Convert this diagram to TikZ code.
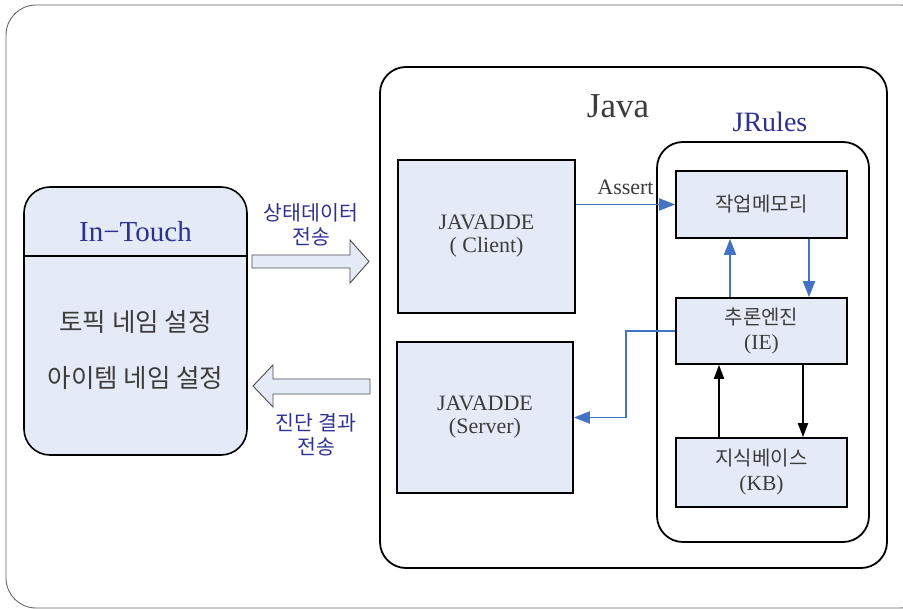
\documentclass[tikz,border=0pt]{standalone}
\usepackage{fontspec}
\setmainfont{Liberation Serif}
\newfontfamily\kr{Noto Sans CJK KR}
\usetikzlibrary{arrows.meta, positioning}

\definecolor{boxfill}{RGB}{229,235,246}
\definecolor{linkblue}{RGB}{68,114,196}
\definecolor{labelblue}{RGB}{46,49,146}
\definecolor{textgray}{RGB}{60,60,60}

\begin{document}
\begin{tikzpicture}[
        x=1pt, y=-1pt, % one unit per pixel, y downwards
        box/.style={draw, line width=1.6pt, fill=boxfill, text=textgray, align=center, inner sep=0pt},
        frame/.style={draw, line width=1.8pt, rounded corners=26pt, inner sep=0pt},
        krlabel/.style={font=\kr\fontsize{20.5}{24}\selectfont, align=center},
        bluelink/.style={draw=linkblue, line width=1.8pt, -{Triangle[length=16pt, width=12pt]}},
        blacklink/.style={draw=black, line width=1.8pt, -{Triangle[length=14pt, width=10pt]}},
        bigarrow/.style={draw=black!70, line width=0.9pt, fill=boxfill}
      ]
      \useasboundingbox (0,0) rectangle (903,609);

      % Outer frame
      \draw[draw=black!60, line width=0.9pt, rounded corners=30pt] (6,5) rectangle (930,608);

      % In-Touch
      \node (touch) [box, rounded corners=26pt, minimum width=223pt, minimum height=268pt] at (135.5,321) {};
      \draw[line width=1.6pt] (touch.west |- 0,256) -- (touch.east |- 0,256);
      \node (touchtitle) [text=labelblue, font=\fontsize{29}{32}\selectfont] at (135.5,232) {In−Touch};
      \node (topic) [text=textgray, font=\kr\fontsize{25.5}{28}\selectfont] at (135.5,322) {토픽 네임 설정};
      \node (item) [text=textgray, font=\kr\fontsize{25.5}{28}\selectfont] at (135.5,378) {아이템 네임 설정};

      % Java and JRules
      \node (java) [frame, minimum width=507pt, minimum height=501pt] at (633.5,317.5) {};
      \node (javatitle) [text=textgray, font=\fontsize{35}{40}\selectfont] at (618,106) {Java};
      \node (jrules) [frame, minimum width=212pt, minimum height=400pt] at (763,342) {};
      \node (jrulestitle) [text=labelblue, font=\fontsize{28}{32}\selectfont] at (770,122) {JRules};

      % Boxes
      \node (client) [box, minimum width=177pt, minimum height=153pt, font=\fontsize{22}{23}\selectfont] at (486.5,236.5) {JAVADDE\\( Client)};
      \node (server) [box, minimum width=176pt, minimum height=151pt, font=\fontsize{22}{23}\selectfont] at (485,417.5) {JAVADDE\\(Server)};
      \node (wm) [box, minimum width=171pt, minimum height=67pt, font=\kr\fontsize{20}{24}\selectfont] at (761.5,204.5) {작업메모리};
      \node (ie) [box, minimum width=171pt, minimum height=66pt, font=\fontsize{21.5}{25}\selectfont] at (761.5,331) {{\kr\fontsize{20}{25}\selectfont 추론엔진}\\(IE)};
      \node (kb) [box, minimum width=171pt, minimum height=69pt, font=\fontsize{21.5}{25}\selectfont] at (761.5,472.5) {{\kr\fontsize{20}{25}\selectfont 지식베이스}\\(KB)};

      % Block arrows
      \draw[bigarrow] (252,255) -- (350,255) -- (350,240) -- (369,261.5) -- (350,283) -- (350,268) -- (252,268) -- cycle;
      \draw[bigarrow] (370,379) -- (273,379) -- (273,365) -- (253,386) -- (273,407) -- (273,394) -- (370,394) -- cycle;
      \node (sendlabel) [krlabel, text=labelblue] at (311,225) {상태데이터\\전송};
      \node (resultlabel) [krlabel, text=labelblue] at (316,435) {진단 결과\\전송};

      % Arrows
      \draw[bluelink] (client.east |- wm.west) -- node[above=6pt, text=textgray, font=\fontsize{22}{24}\selectfont] {Assert} (wm.west);
      \draw[bluelink] ([xshift=-31.5pt]ie.north) -- ([xshift=-31.5pt]wm.south);
      \draw[bluelink] ([xshift=47.5pt]wm.south) -- ([xshift=47.5pt]ie.north);
      \draw[bluelink] (ie.west) -- ++(-49,0) |- (server.east);
      \draw[blacklink] ([xshift=-42.5pt]kb.north) -- ([xshift=-42.5pt]ie.south);
      \draw[blacklink] ([xshift=41.5pt]ie.south) -- ([xshift=41.5pt]kb.north);

    \end{tikzpicture}
\end{document}
